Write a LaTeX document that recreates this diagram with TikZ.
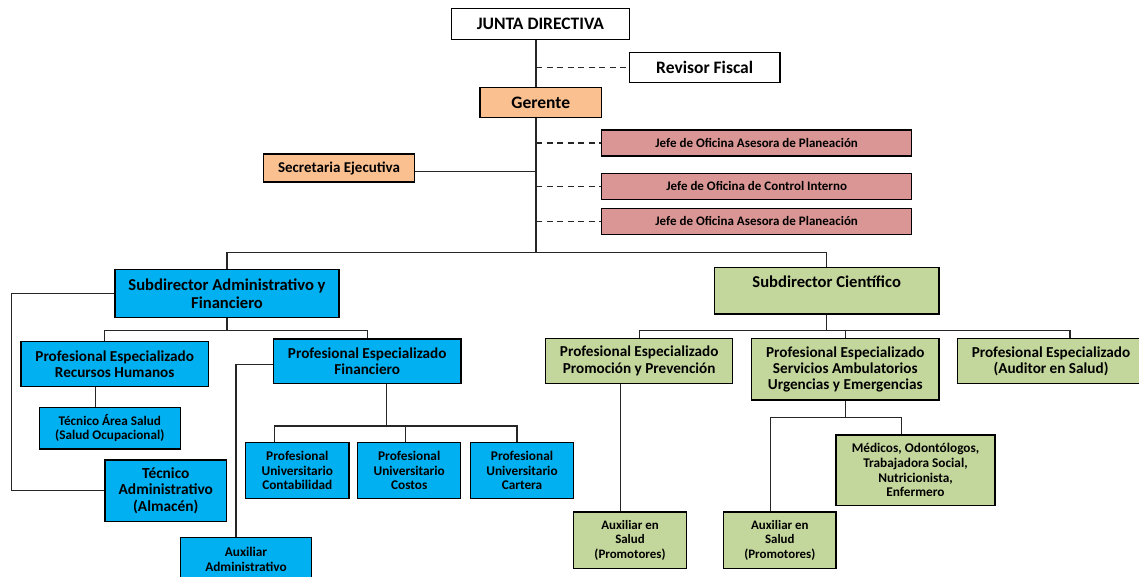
\documentclass[tikz,border=0pt]{standalone}
\usepackage{fontspec}
\setmainfont{Carlito}
\usetikzlibrary{positioning}

\definecolor{cielo}{HTML}{00B0F0}
\definecolor{oliva}{HTML}{C3D69B}
\definecolor{durazno}{HTML}{FAC090}
\definecolor{rosado}{HTML}{D99694}

\tikzset{
  box/.style={draw, line width=1.3pt, inner sep=2pt, align=center, font=\bfseries\fontsize{15.2}{16.3}\selectfont},
  toptext/.style={font=\bfseries\fontsize{17.5}{20}\selectfont},
  bigtext/.style={font=\bfseries\fontsize{16.6}{18}\selectfont},
  smalltext/.style={font=\bfseries\fontsize{13.3}{14.7}\selectfont},
  auxtext/.style={font=\bfseries\fontsize{12.9}{14.7}\selectfont},
  jefe/.style={box, fill=rosado, minimum width=310pt, minimum height=26pt, font=\bfseries\fontsize{13}{14}\selectfont},
  admin/.style={box, fill=cielo},
  cient/.style={box, fill=oliva},
  link/.style={draw=black!85, line width=1.2pt},
  dlink/.style={link, dash pattern=on 6pt off 4.5pt},
}

\begin{document}
\begin{tikzpicture}[x=1pt, y=-1pt]
\useasboundingbox (0,0) rectangle (1139,577);

% Nodes
\node[box, toptext, minimum width=177.6pt, minimum height=31pt] (junta) at (540.5,23.8) {JUNTA DIRECTIVA};
\node[box, toptext, minimum width=150.7pt, minimum height=30.4pt] (revisor) at (704.7,67.5) {Revisor Fiscal};
\node[box, toptext, fill=durazno, minimum width=121.7pt, minimum height=30.4pt] (gerente) at (540.8,102.5) {Gerente};
\node[box, fill=durazno, minimum width=150.6pt, minimum height=28pt, font=\bfseries\fontsize{15}{16}\selectfont] (secre) at (339,168) {Secretaria Ejecutiva};
\node[jefe] (jefeA) at (756.7,143) {Jefe de Oficina Asesora de Planeación};
\node[jefe] (jefeB) at (756.7,186.3) {Jefe de Oficina de Control Interno};
\node[jefe] (jefeC) at (756.7,221.2) {Jefe de Oficina Asesora de Planeación};
\coordinate (trunk) at (536,252.3);

% administrativo
\node[admin, bigtext, minimum width=224pt, minimum height=48.5pt] (subadm) at (227,293.5) {Subdirector Administrativo y\\Financiero};
\node[admin, minimum width=187.3pt, minimum height=45pt] (rh) at (114.7,364.2) {Profesional Especializado\\Recursos Humanos};
\node[admin, minimum width=141pt, minimum height=41.7pt, font=\bfseries\fontsize{13.2}{14.3}\selectfont] (tsalud) at (109.8,428.2) {Técnico Área Salud\\(Salud Ocupacional)};
\node[admin, minimum width=121.7pt, minimum height=61.3pt, font=\bfseries\fontsize{15.4}{16.5}\selectfont] (tadm) at (165.8,490.7) {Técnico\\Administrativo\\(Almacén)};
\node[admin, minimum width=187.7pt, minimum height=44.3pt] (fin) at (367.2,361.2) {Profesional Especializado\\Financiero};
\node[admin, smalltext, minimum width=131.4pt, minimum height=43pt] (auxadm) at (246,559.2) {Auxiliar\\Administrativo};
\node[admin, smalltext, minimum width=103.3pt, minimum height=56.3pt] (cont) at (297.3,470.5) {Profesional\\Universitario\\Contabilidad};
\node[admin, smalltext, minimum width=103pt, minimum height=56.3pt] (cost) at (409.2,470.5) {Profesional\\Universitario\\Costos};
\node[admin, smalltext, minimum width=102.7pt, minimum height=56.3pt] (cart) at (522,470.5) {Profesional\\Universitario\\Cartera};

% cientifico
\node[cient, bigtext, minimum width=224.7pt, minimum height=46.3pt] (subcie) at (826.7,290.8) {Subdirector Científico\\[-6pt]\strut};
\node[cient, minimum width=187pt, minimum height=44.6pt] (promo) at (639.2,361) {Profesional Especializado\\Promoción y Prevención};
\node[cient, minimum width=187.3pt, minimum height=61.3pt] (serv) at (845.3,369.3) {Profesional Especializado\\Servicios Ambulatorios\\Urgencias y Emergencias};
\node[cient, minimum width=187pt, minimum height=44.6pt] (audit) at (1051,361) {Profesional Especializado\\(Auditor en Salud)};
\node[cient, auxtext, minimum width=113.3pt, minimum height=56.3pt] (aux1) at (630,540.2) {Auxiliar en\\Salud\\(Promotores)};
\node[cient, auxtext, minimum width=112.3pt, minimum height=56.3pt] (aux2) at (779.8,540.2) {Auxiliar en\\Salud\\(Promotores)};
\node[cient, smalltext, minimum width=159pt, minimum height=70.7pt] (med) at (915.5,470.3) {Médicos, Odontólogos,\\Trabajadora Social,\\Nutricionista,\\Enfermero};

% Edges
\draw[link] (junta.south -| trunk) -- (gerente.north -| trunk);
\draw[link] (gerente.south -| trunk) -- (trunk);
\draw[dlink] (revisor.west -| trunk) -- (revisor.west);
\draw[dlink] (jefeA.west -| trunk) -- (jefeA.west);
\draw[dlink] (jefeB.west -| trunk) -- (jefeB.west);
\draw[dlink] (jefeC.west -| trunk) -- (jefeC.west);
\draw[link] ([yshift=-3.5pt]secre.east) -- ([yshift=-3.5pt]secre.east -| trunk);
\draw[link] (trunk) -| (subadm.north);
\draw[link] (trunk) -| (subcie.north);

\draw[link] (subadm.south) -- ++(0,12) coordinate (b2);
\draw[link] (b2) -| ([xshift=-10pt]rh.north);
\draw[link] (b2) -| (fin.north);
\draw[link] (subadm.west) -- ++(-103,0) |- (tadm.west);
\draw[link] ([xshift=-19pt]rh.south) -- ([xshift=-19pt]rh.south |- tsalud.north);
\draw[link] ([yshift=-3pt]fin.west) -| ([xshift=-10pt]auxadm.north);
\draw[link] ([xshift=19pt]fin.south) -- ++(0,42) coordinate (b3);
\draw[link] (b3) -| ([xshift=-23pt]cont.north);
\draw[link] (b3) -| ([xshift=-4pt]cost.north);
\draw[link] (b3) -| ([xshift=-5pt]cart.north);

\draw[link] (subcie.south) -- ++(0,16) coordinate (b4);
\draw[link] (b4) -| (promo.north);
\draw[link] (b4) -| (serv.north);
\draw[link] (b4) -| ([xshift=19pt]audit.north);
\draw[link] ([xshift=-19pt]promo.south) -- ([xshift=-19pt]promo.south |- aux1.north);
\draw[link] (serv.south) -- ++(0,16.7) coordinate (b5);
\draw[link] (b5) -| ([xshift=-9pt]aux2.north);
\draw[link] (b5) -| ([xshift=-14pt]med.north);
\end{tikzpicture}
\end{document}
